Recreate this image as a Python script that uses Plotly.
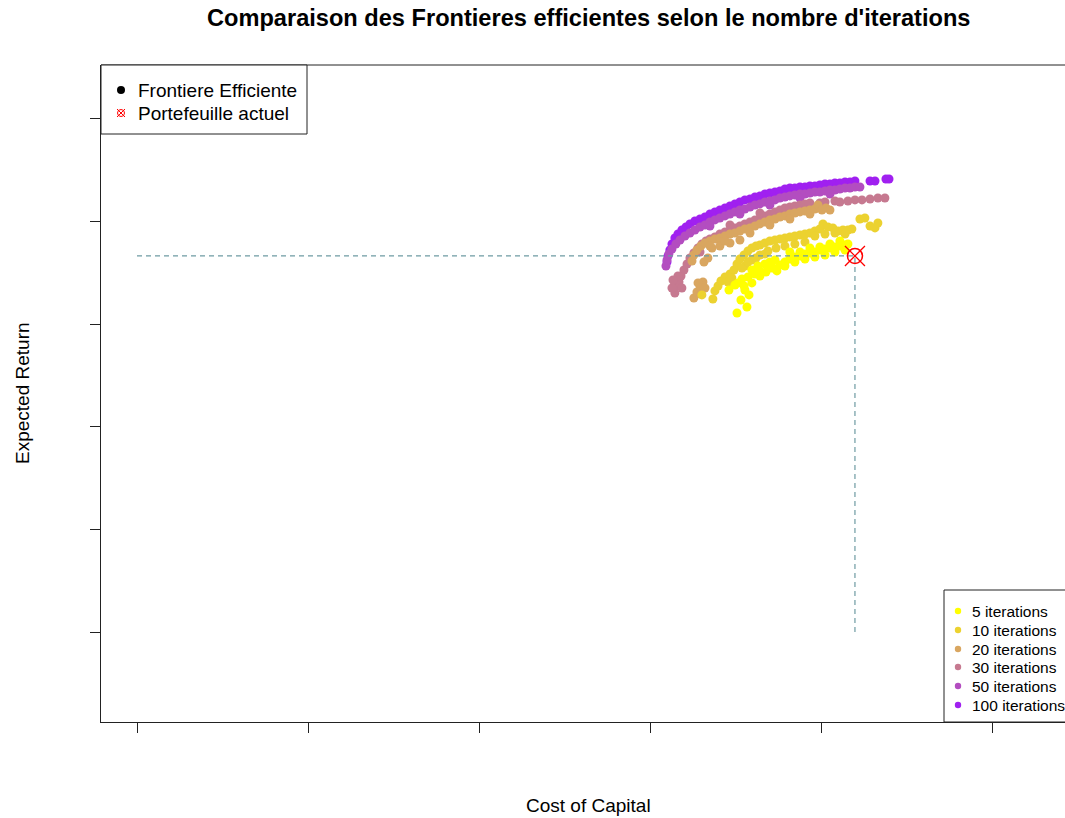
import plotly.graph_objects as go

# ---- data ---------------------------------------------------------------
iteration_labels = ["5 iterations", "10 iterations", "20 iterations",
                    "30 iterations", "50 iterations", "100 iterations"]
series_colors = ["#FFFF00", "#ECD230", "#D9A660", "#C67990", "#B34DC0", "#A020F0"]

cost_5 = [3.505, 3.563, 3.528, 3.575, 3.551, 3.458, 3.493, 3.511, 3.534, 3.569,
          3.610, 3.639, 3.592, 3.627, 3.668, 3.697, 3.727, 3.738, 3.756, 3.785,
          3.814, 3.843, 3.873, 3.902, 3.931, 3.960, 3.989, 4.019, 4.048, 4.077,
          4.106, 4.136, 4.153, 3.715, 3.674, 3.639, 3.814, 3.931, 4.048, 4.106,
          3.785, 3.843, 3.902, 3.960, 4.019, 4.077, 4.136, 3.697, 3.873, 3.989,
          3.592, 3.546]
ret_5 = [3.109, 3.168, 3.236, 3.285, 3.333, 3.333, 3.382, 3.402, 3.441, 3.460,
         3.489, 3.519, 3.528, 3.567, 3.587, 3.606, 3.626, 3.519, 3.577, 3.606,
         3.635, 3.655, 3.665, 3.684, 3.694, 3.704, 3.723, 3.733, 3.743, 3.752,
         3.762, 3.772, 3.782, 3.548, 3.509, 3.470, 3.704, 3.743, 3.782, 3.811,
         3.567, 3.606, 3.635, 3.655, 3.674, 3.704, 3.723, 3.548, 3.704, 3.752,
         3.402, 3.372]

cost_10 = [3.300, 3.364, 3.376, 3.394, 3.411, 3.435, 3.464, 3.487, 3.505, 3.522,
           3.546, 3.569, 3.592, 3.616, 3.639, 3.668, 3.697, 3.727, 3.756, 3.785,
           3.814, 3.843, 3.873, 3.902, 3.931, 3.960, 3.989, 4.007, 4.036, 4.065,
           4.095, 4.124, 4.153, 4.176, 4.223, 4.252, 4.282, 4.311, 4.328,
           3.551, 3.592, 3.639, 3.686, 3.733, 3.785, 3.843, 3.902,
           3.452, 3.475, 3.534, 3.569, 3.616, 3.668, 3.960, 4.019, 4.077, 4.136]
ret_10 = [3.285, 3.246, 3.324, 3.372, 3.421, 3.460, 3.489, 3.528, 3.587, 3.635,
          3.674, 3.713, 3.743, 3.762, 3.772, 3.791, 3.811, 3.821, 3.830, 3.840,
          3.850, 3.860, 3.869, 3.879, 3.889, 3.908, 3.928, 3.977, 3.947, 3.938,
          3.908, 3.918, 3.918, 3.928, 4.025, 4.035, 3.957, 3.938, 3.986,
          3.567, 3.626, 3.674, 3.713, 3.743, 3.762, 3.782, 3.801,
          3.411, 3.450, 3.548, 3.606, 3.645, 3.684, 3.860, 3.879, 3.889, 3.879]

cost_20 = [3.253, 3.271, 3.289, 3.306, 3.277, 3.242, 3.253, 3.271, 3.294, 3.312,
           3.335, 3.318, 3.347, 3.376, 3.405, 3.435, 3.464, 3.493, 3.522, 3.551,
           3.581, 3.610, 3.639, 3.668, 3.697, 3.727, 3.756, 3.785, 3.814, 3.843,
           3.873, 3.902, 3.931, 3.960, 3.978, 4.001, 4.025, 4.048,
           3.359, 3.405, 3.464, 3.522,
           3.347, 3.435, 3.581, 3.697, 3.814, 3.931, 3.294, 3.318]
ret_20 = [3.255, 3.314, 3.372, 3.411, 3.402, 3.616, 3.674, 3.723, 3.762, 3.606,
          3.645, 3.791, 3.811, 3.830, 3.840, 3.860, 3.879, 3.889, 3.908, 3.928,
          3.938, 3.957, 3.977, 3.996, 4.016, 4.025, 4.045, 4.055, 4.074, 4.084,
          4.094, 4.103, 4.113, 4.123, 4.162, 4.113, 4.133, 4.113,
          3.743, 3.762, 3.791, 3.821,
          3.762, 3.811, 3.889, 3.967, 4.025, 4.074, 3.294, 3.353]

cost_30 = [3.142, 3.148, 3.166, 3.178, 3.195, 3.213, 3.230, 3.253, 3.277, 3.300,
           3.324, 3.347, 3.376, 3.405, 3.435, 3.464, 3.493, 3.522, 3.551, 3.581,
           3.610, 3.639, 3.668, 3.697, 3.727, 3.756, 3.785, 3.814, 3.843, 3.873,
           3.902, 3.931, 3.989, 4.019, 4.077, 4.106, 4.153, 4.194, 4.235, 4.282,
           4.328, 4.369, 3.183, 3.160,
           3.289, 3.405, 3.464, 3.639, 3.125, 3.131]
ret_30 = [3.304, 3.363, 3.411, 3.470, 3.528, 3.587, 3.645, 3.694, 3.743, 3.782,
          3.811, 3.830, 3.850, 3.879, 3.899, 3.918, 3.938, 3.957, 3.977, 3.996,
          4.016, 4.035, 4.055, 4.074, 4.094, 4.113, 4.133, 4.142, 4.152, 4.162,
          4.172, 4.181, 4.181, 4.191, 4.201, 4.191, 4.201, 4.211, 4.211, 4.220,
          4.230, 4.230, 3.353, 3.470,
          3.704, 3.821, 3.967, 4.084, 3.353, 3.431]

cost_50 = [3.090, 3.096, 3.107, 3.125, 3.148, 3.172, 3.201, 3.230, 3.259, 3.289,
           3.318, 3.347, 3.376, 3.405, 3.435, 3.464, 3.493, 3.522, 3.551, 3.581,
           3.610, 3.639, 3.668, 3.697, 3.727, 3.756, 3.785, 3.814, 3.843, 3.873,
           3.902, 3.931, 3.960, 3.989, 4.019, 4.048, 4.077, 4.106, 4.136, 4.165,
           4.194, 4.223,
           3.347, 3.522, 3.697, 3.873, 4.048]
ret_50 = [3.567, 3.626, 3.684, 3.733, 3.782, 3.821, 3.860, 3.889, 3.918, 3.947,
          3.967, 3.996, 4.016, 4.035, 4.055, 4.074, 4.094, 4.113, 4.123, 4.142,
          4.162, 4.172, 4.191, 4.201, 4.211, 4.230, 4.240, 4.250, 4.259, 4.269,
          4.269, 4.279, 4.288, 4.288, 4.298, 4.308, 4.308, 4.318, 4.327, 4.327,
          4.337, 4.337,
          3.957, 4.074, 4.162, 4.230, 4.269]

cost_100 = [3.096, 3.102, 3.113, 3.125, 3.142, 3.160, 3.183, 3.207, 3.230, 3.259,
            3.289, 3.318, 3.347, 3.376, 3.405, 3.435, 3.464, 3.493, 3.522, 3.551,
            3.581, 3.610, 3.639, 3.668, 3.697, 3.727, 3.756, 3.785, 3.814, 3.843,
            3.873, 3.902, 3.931, 3.960, 3.989, 4.019, 4.048, 4.077, 4.106, 4.136,
            4.165, 4.194, 4.282, 4.311, 4.375, 4.393,
            3.172, 3.289, 3.464, 3.639, 3.814, 3.989, 4.165]
ret_100 = [3.606, 3.665, 3.723, 3.782, 3.840, 3.879, 3.918, 3.947, 3.977, 4.006,
           4.025, 4.045, 4.074, 4.094, 4.113, 4.133, 4.152, 4.172, 4.191, 4.211,
           4.220, 4.240, 4.250, 4.269, 4.279, 4.288, 4.298, 4.318, 4.327, 4.327,
           4.337, 4.337, 4.347, 4.347, 4.357, 4.366, 4.366, 4.376, 4.376, 4.386,
           4.386, 4.396, 4.396, 4.396, 4.415, 4.415,
           3.860, 3.986, 4.123, 4.220, 4.298, 4.327, 4.357]

current_cost = 4.194
current_return = 3.665

x_ticks = [0, 1, 2, 3, 4, 5]
y_ticks = [0, 1, 2, 3, 4, 5]
x_range = [-0.2103, 5.421]
y_range = [-0.877, 5.526]

FONT = "Liberation Sans, Arial, sans-serif"

costs = [cost_5, cost_10, cost_20, cost_30, cost_50, cost_100]
rets = [ret_5, ret_10, ret_20, ret_30, ret_50, ret_100]

fig = go.Figure()

# frontiers: the longest runs first so shorter runs sit on top
for i in reversed(range(len(costs))):
    fig.add_trace(go.Scatter(
        x=costs[i], y=rets[i], mode="markers", name=iteration_labels[i],
        marker=dict(color=series_colors[i], size=9, line=dict(width=0)),
        showlegend=False, hoverinfo="skip"))

# guide lines to the current portfolio
guide = dict(color="#6E9BA3", width=1.2, dash="5px,4px")
fig.add_trace(go.Scatter(x=[x_ticks[0], current_cost], y=[current_return, current_return],
                         mode="lines", line=guide, showlegend=False, hoverinfo="skip"))
fig.add_trace(go.Scatter(x=[current_cost, current_cost], y=[y_ticks[0], current_return],
                         mode="lines", line=guide, showlegend=False, hoverinfo="skip"))

# current portfolio: circle crossed by an X
fig.add_trace(go.Scatter(x=[current_cost], y=[current_return], mode="markers",
                         marker=dict(symbol="circle-open", size=15, color="#FF0000",
                                     line=dict(width=1.5, color="#FF0000")),
                         showlegend=False, hoverinfo="skip"))
fig.add_trace(go.Scatter(x=[current_cost], y=[current_return], mode="markers",
                         marker=dict(symbol="x-thin-open", size=20, color="#FF0000",
                                     line=dict(width=1.3, color="#FF0000")),
                         showlegend=False, hoverinfo="skip"))

# ---- layout helpers (pixel -> paper) --------------------------------------
L, T, R, B = 101, 65, 1065, 722
W, H = R - L, B - T


def px(x):
    return (x - L) / W


def py(y):
    return (B - y) / H


shapes = []
annotations = []

# top border of the plot box
shapes.append(dict(type="line", xref="paper", yref="paper", x0=0, x1=1.02, y0=1, y1=1,
                   line=dict(color="#222222", width=1)))

# legend 1: frontier / current portfolio
shapes.append(dict(type="rect", xref="paper", yref="paper", x0=px(101), x1=px(307),
                   y0=py(134), y1=py(65), line=dict(color="#222222", width=1),
                   fillcolor="white"))


def dot(xc, yc, r, color):
    shapes.append(dict(type="circle", xref="paper", yref="paper",
                       xsizemode="pixel", ysizemode="pixel",
                       xanchor=px(xc), yanchor=py(yc),
                       x0=-r, x1=r, y0=-r, y1=r,
                       fillcolor=color, line=dict(width=0)))


dot(121, 90, 4, "black")
# small circle-cross symbol
shapes.append(dict(type="circle", xref="paper", yref="paper",
                   xsizemode="pixel", ysizemode="pixel",
                   xanchor=px(121), yanchor=py(113), x0=-3.5, x1=3.5, y0=-3.5, y1=3.5,
                   line=dict(color="#FF0000", width=1)))
for s in (1, -1):
    shapes.append(dict(type="line", xref="paper", yref="paper",
                       xsizemode="pixel", ysizemode="pixel",
                       xanchor=px(121), yanchor=py(113), x0=-4, x1=4, y0=-4 * s, y1=4 * s,
                       line=dict(color="#FF0000", width=1)))

for text, yc in (("Frontiere Efficiente", 90), ("Portefeuille actuel", 113)):
    annotations.append(dict(text=text, xref="paper", yref="paper", x=px(136), y=py(yc),
                            xanchor="left", yanchor="middle", showarrow=False,
                            font=dict(family=FONT, size=19, color="black")))

# legend 2: iteration counts
shapes.append(dict(type="rect", xref="paper", yref="paper", x0=px(944), x1=px(1100),
                   y0=0, y1=py(590), line=dict(color="#222222", width=1),
                   fillcolor="white"))
rows = [611, 630, 649, 667, 686, 705]
for lab, col, yc in zip(iteration_labels, series_colors, rows):
    dot(958, yc, 3.2, col)
    annotations.append(dict(text=lab, xref="paper", yref="paper", x=px(970), y=py(yc),
                            xanchor="left", yanchor="middle", showarrow=False,
                            font=dict(family=FONT, size=15.5, color="black")))

# titles
annotations.append(dict(text="<b>Comparaison des Frontieres efficientes selon le nombre d'iterations</b>",
                        xref="paper", yref="paper", x=px(588), y=py(18),
                        xanchor="center", yanchor="middle", showarrow=False,
                        font=dict(family=FONT, size=23.6, color="black")))
annotations.append(dict(text="Cost of Capital", xref="paper", yref="paper",
                        x=px(588), y=py(805), xanchor="center", yanchor="middle",
                        showarrow=False, font=dict(family=FONT, size=19, color="black")))
annotations.append(dict(text="Expected Return", xref="paper", yref="paper",
                        x=px(22), y=py(393), xanchor="center", yanchor="middle",
                        textangle=-90, showarrow=False,
                        font=dict(family=FONT, size=19, color="black")))

axis_common = dict(showgrid=False, zeroline=False, showticklabels=False,
                   ticks="outside", ticklen=10, tickwidth=1, tickcolor="#222222",
                   showline=True, linecolor="#222222", linewidth=1, mirror=False,
                   tickmode="array", fixedrange=True)

fig.update_layout(
    width=1065, height=818,
    margin=dict(l=L, r=1065 - R, t=T, b=818 - B, autoexpand=False),
    paper_bgcolor="white", plot_bgcolor="white",
    xaxis=dict(range=x_range, tickvals=x_ticks, **axis_common),
    yaxis=dict(range=y_range, tickvals=y_ticks, **axis_common),
    shapes=shapes, annotations=annotations, showlegend=False,
    font=dict(family=FONT),
)

fig.write_html("out.html")
